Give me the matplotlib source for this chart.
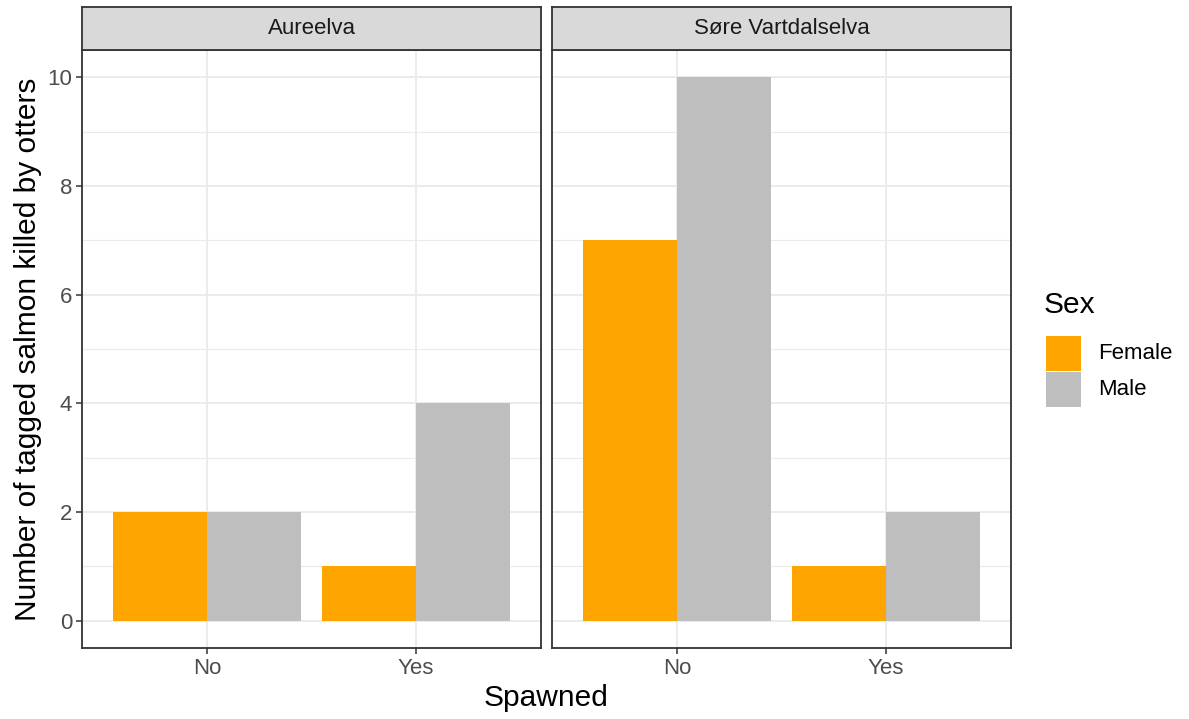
import matplotlib
matplotlib.use("Agg")
import matplotlib.pyplot as plt
from matplotlib.patches import Rectangle
import numpy as np

# data
rivers = ["Aureelva", "Søre Vartdalselva"]
spawned = ["No", "Yes"]
female_counts = {"Aureelva": [2, 1], "Søre Vartdalselva": [7, 1]}
male_counts = {"Aureelva": [2, 4], "Søre Vartdalselva": [10, 2]}
y_ticks = [0, 2, 4, 6, 8, 10]
sexes = ["Female", "Male"]

FEMALE = "#FFA500"
MALE = "#BEBEBE"
BORDER = "#333333"
GRID = "#EBEBEB"

plt.rcParams["font.family"] = ["Liberation Sans", "DejaVu Sans"]

W, H = 1189, 719
fig = plt.figure(figsize=(W / 100, H / 100), dpi=100)

panel_x = [82, 552]
panel_w = 459
panel_top, panel_bot = 50, 648
strip_top = 7


def fx(px):
    return px / W


def fy(py):
    return 1 - py / H


x = np.arange(1, len(spawned) + 1)
bw = 0.45
for i, river in enumerate(rivers):
    ax = fig.add_axes([fx(panel_x[i]), fy(panel_bot), panel_w / W,
                       (panel_bot - panel_top) / H])
    ax.set_xlim(0.4, 2.6)
    ax.set_ylim(-0.5, 10.5)
    ax.set_axisbelow(True)
    for yv in np.arange(1, 10, 2):
        ax.axhline(yv, color=GRID, lw=0.8, zorder=0)
    for yv in y_ticks:
        ax.axhline(yv, color=GRID, lw=1.4, zorder=0)
    for xv in x:
        ax.axvline(xv, color=GRID, lw=1.4, zorder=0)
    ax.bar(x - bw / 2, female_counts[river], bw, color=FEMALE, zorder=2)
    ax.bar(x + bw / 2, male_counts[river], bw, color=MALE, zorder=2)
    ax.set_xticks(x)
    ax.set_xticklabels(spawned)
    ax.set_yticks(y_ticks)
    if i == 0:
        ax.set_yticklabels([str(v) for v in y_ticks])
    else:
        ax.tick_params(axis="y", left=False, labelleft=False)
    ax.tick_params(colors=BORDER, labelcolor="#4D4D4D", labelsize=16,
                   length=4, width=1.1, pad=3)
    for sp in ax.spines.values():
        sp.set_color(BORDER)
        sp.set_linewidth(1.3)

    # facet strip
    sax = fig.add_axes([fx(panel_x[i]), fy(panel_top), panel_w / W,
                        (panel_top - strip_top) / H])
    sax.set_facecolor("#D9D9D9")
    sax.set_xticks([])
    sax.set_yticks([])
    for sp in sax.spines.values():
        sp.set_color(BORDER)
        sp.set_linewidth(1.3)
    sax.text(0.5, 0.5, river, transform=sax.transAxes, ha="center",
             va="center", fontsize=16, color="#1A1A1A")

fig.text(fx(28), fy((panel_top + panel_bot) / 2),
         "Number of tagged salmon killed by otters", rotation=90,
         ha="center", va="center", fontsize=21.5, color="black")
fig.text(fx((82 + 1011) / 2), fy(698), "Spawned", ha="center",
         va="center", fontsize=21.5, color="black")

# legend drawn by hand, ggplot style
fig.text(fx(1044), fy(305), "Sex", ha="left", va="center",
         fontsize=21.5, color="black")
key = 35
for j, (sex, col) in enumerate(zip(sexes, [FEMALE, MALE])):
    top = 336 + j * (key + 1)
    fig.add_artist(Rectangle((fx(1046), fy(top + key)), key / W, key / H,
                             transform=fig.transFigure, facecolor=col,
                             edgecolor="none"))
    fig.text(fx(1098), fy(top + key / 2), sex, ha="left", va="center",
             fontsize=16, color="black")

fig.savefig("out.png", dpi=100)
